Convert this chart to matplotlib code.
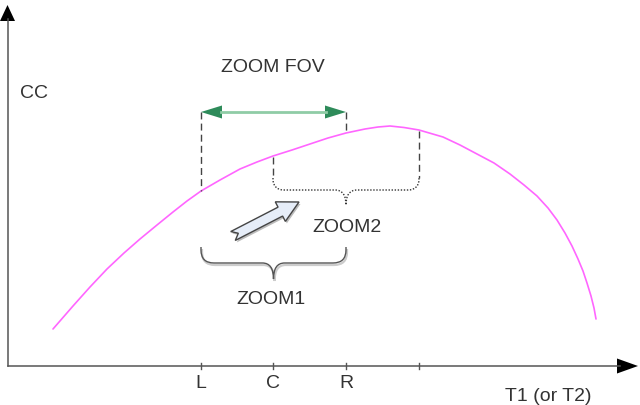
import matplotlib
matplotlib.use('Agg')
import matplotlib.pyplot as plt
from matplotlib.path import Path
import matplotlib.patches as mpatches
import numpy as np

plt.rcParams['font.family'] = ['Liberation Sans', 'DejaVu Sans']

# CC curve (pixel units, y grows downward)
curve_x = [53, 73, 90, 107, 124, 140, 157, 173, 187, 201, 220, 240, 257, 273, 292,
           310, 328, 346, 365, 378, 390, 404, 419, 443, 460, 477, 494, 510, 524, 537,
           548, 557, 565, 572, 578, 583, 587, 591, 594, 596]
curve_y = [330, 307, 288, 270, 254, 240, 226, 213, 202, 192, 181, 170, 163, 157, 151,
           145, 139, 134, 130, 128, 127, 128.5, 131, 138, 146, 155, 164, 175, 186, 197,
           209, 221, 234, 247, 260, 272, 284, 297, 309, 320]

tick_x = [201, 273, 346, 419]
tick_labels = ['L', 'C', 'R', '']

AXIS_Y = 367
AXIS_X = 7.5
FS = 14


def curve_at(x):
    return np.interp(x, curve_x, curve_y)


def brace(ax, x0, x1, ytop0, ytop1, ybar, ytip, r, rm, **kw):
    xm = (x0 + x1) / 2
    verts = [(x0, ytop0), (x0, ybar - r), (x0, ybar), (x0 + r, ybar),
             (xm - rm, ybar), (xm, ybar), (xm, ytip),
             (xm, ybar), (xm + rm, ybar),
             (x1 - r, ybar), (x1, ybar), (x1, ybar - r), (x1, ytop1)]
    codes = [Path.MOVETO, Path.LINETO, Path.CURVE3, Path.CURVE3,
             Path.LINETO, Path.CURVE3, Path.CURVE3,
             Path.CURVE3, Path.CURVE3,
             Path.LINETO, Path.CURVE3, Path.CURVE3, Path.LINETO]
    ax.add_patch(mpatches.PathPatch(Path(verts, codes), fill=False, **kw))


def tri(ax, tip, direction, length, half_w, color):
    tip = np.array(tip, float)
    u = np.array(direction, float)
    u = u / np.linalg.norm(u)
    n = np.array([-u[1], u[0]])
    base = tip - u * length
    pts = np.array([tip, base + n * half_w, base - n * half_w])
    ax.fill(pts[:, 0], pts[:, 1], color=color, lw=0)


fig = plt.figure(figsize=(6.4, 4.06), dpi=100)
ax = fig.add_axes([0, 0, 1, 1])
ax.set_xlim(0, 640)
ax.set_ylim(406, 0)
ax.axis('off')

# axes
ax.plot([AXIS_X, 620], [AXIS_Y, AXIS_Y], color='#555555', lw=1.1)
ax.plot([AXIS_X, AXIS_X], [AXIS_Y, 20], color='#555555', lw=1.1)
tri(ax, (638, AXIS_Y), (1, 0), 21, 7.5, 'black')
tri(ax, (AXIS_X, 6), (0, -1), 16, 7.5, 'black')
for x, lab in zip(tick_x, tick_labels):
    ax.plot([x, x], [AXIS_Y - 3, AXIS_Y + 3], color='#555555', lw=1)
    ax.text(x, 384, lab, fontsize=FS, color='#333333', ha='center', va='center')
ax.text(548, 397, 'T1 (or T2)', fontsize=FS, color='#333333', ha='center', va='center')
ax.text(34, 93, 'CC', fontsize=FS, color='#333333', ha='center', va='center')

# curve
ax.plot(curve_x, curve_y, color='#ff66ff', lw=1.2, solid_capstyle='round',
        solid_joinstyle='round')

# zoom FOV
fov_y = 113
ax.plot([221, 326], [fov_y, fov_y], color='#8fcca6', lw=2)
tri(ax, (201, fov_y), (-1, 0), 21, 6.5, '#2e8b5a')
tri(ax, (346, fov_y), (1, 0), 21, 6.5, '#2e8b5a')
ax.text(273, 67, 'ZOOM FOV', fontsize=FS, color='#333333', ha='center', va='center')
for x in (201, 346):
    ax.plot([x, x], [fov_y, curve_at(x)], color='#444444', lw=1, ls=(0, (5, 3)))

# ZOOM2 bracket
for x in (273, 419):
    ax.plot([x, x], [curve_at(x) + 1, 179], color='#444444', lw=1, ls=(0, (5, 3)))
brace(ax, 273, 419, 179, 179, 191, 206, 11, 11, edgecolor='#333333', lw=1,
      ls=(0, (1, 1.2)))
ax.text(347, 228, 'ZOOM2', fontsize=FS, color='#333333', ha='center', va='center')

# ZOOM1 brace with soft shadow
brace(ax, 202, 347, 250, 250, 266, 282, 13, 11, edgecolor='#cccccc', lw=1.6)
brace(ax, 201, 346, 248, 248, 264, 280, 13, 11, edgecolor='#555555', lw=1)
ax.text(271, 300, 'ZOOM1', fontsize=FS, color='#333333', ha='center', va='center')

# block arrow
tail = np.array([233.0, 237.0])
tip = np.array([299.0, 203.0])
u = (tip - tail) / np.linalg.norm(tip - tail)
n = np.array([-u[1], u[0]])
hw, sw, hl, notch = 11.0, 5.0, 21.0, 6.0
h0 = tip - u * hl
poly = np.array([tail + n * sw, tail + u * notch, tail - n * sw,
                 h0 - n * sw, h0 - n * hw, tip, h0 + n * hw, h0 + n * sw])
ax.add_patch(mpatches.Polygon(poly + [1.5, 2], closed=True, facecolor='#bbbbbb',
                              edgecolor='none'))
ax.add_patch(mpatches.Polygon(poly, closed=True, facecolor='#e6edf8',
                              edgecolor='#444444', lw=1))

fig.savefig('out.png', dpi=100)
